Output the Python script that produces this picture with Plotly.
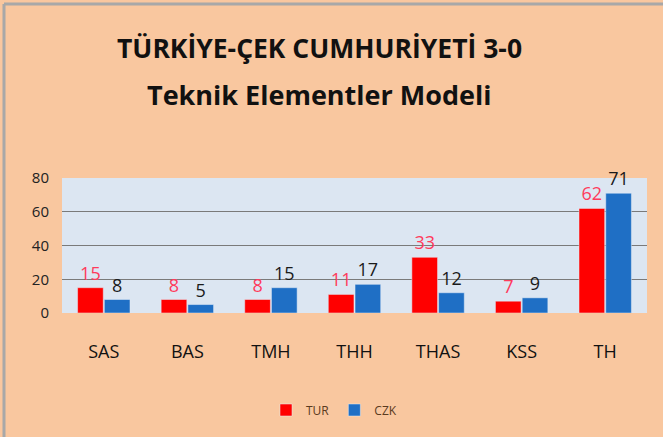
import plotly.graph_objects as go

categories = ["SAS", "BAS", "TMH", "THH", "THAS", "KSS", "TH"]
tur = [15, 8, 8, 11, 33, 7, 62]
czk = [8, 5, 15, 17, 12, 9, 71]
y_ticks = [0, 20, 40, 60, 80]

W, H = 663, 437
L, R, T, B = 62, 16, 178, 124
pw, ph = W - L - R, H - T - B

def px_x(x):
    return (x - L) / pw

def px_y(y):
    return (H - B - y) / ph

fig = go.Figure()
fig.add_trace(go.Bar(
    x=categories, y=tur, name="TUR", marker_color="#FF0000",
    text=[str(v) for v in tur], textposition="outside",
    textfont=dict(color="#FF3B5C", size=18, family="Open Sans"),
    cliponaxis=False,
))
fig.add_trace(go.Bar(
    x=categories, y=czk, name="CZK", marker_color="#1F6FC5",
    text=[str(v) for v in czk], textposition="outside",
    textfont=dict(color="#1A1A1A", size=18, family="Open Sans"),
    cliponaxis=False,
))

fig.update_layout(
    width=W, height=H,
    margin=dict(l=L, r=R, t=T, b=B),
    paper_bgcolor="#F9C79F",
    plot_bgcolor="#DCE6F2",
    barmode="group", bargap=0.36, bargroupgap=0.04,
    font=dict(family="Open Sans", color="#222222"),
    showlegend=True,
    legend=dict(orientation="h", x=px_x(334), xanchor="center", y=px_y(410), yanchor="middle",
                font=dict(size=12, color="#5A3A20"), bgcolor="rgba(0,0,0,0)",
                itemwidth=30, tracegroupgap=0),
    annotations=[
        dict(text="TÜRKİYE-ÇEK CUMHURİYETİ 3-0", xref="paper", yref="paper",
             x=px_x(319), y=px_y(48), xanchor="center", yanchor="middle", showarrow=False,
             font=dict(family="Open Sans", size=26.5, color="#111111", weight="bold")),
        dict(text="Teknik Elementler Modeli", xref="paper", yref="paper",
             x=px_x(319), y=px_y(95), xanchor="center", yanchor="middle", showarrow=False,
             font=dict(family="Open Sans", size=27, color="#111111", weight="bold")),
    ],
    shapes=[
        dict(type="line", xref="paper", yref="paper", x0=px_x(4), x1=px_x(4),
             y0=px_y(4), y1=px_y(437), line=dict(color="#A8A8A8", width=3), layer="above"),
        dict(type="line", xref="paper", yref="paper", x0=px_x(4), x1=px_x(663),
             y0=px_y(4), y1=px_y(4), line=dict(color="#A8A8A8", width=3), layer="above"),
    ],
)
fig.update_yaxes(range=[0, 80], tickvals=y_ticks, showgrid=True, gridcolor="#7A7A7A",
                 gridwidth=1, zeroline=False, tickfont=dict(size=15, color="#222222"),
                 ticks="", showline=False, ticklabelstandoff=12)
fig.update_xaxes(tickfont=dict(size=18, color="#111111"), ticks="outside", ticklen=22,
                 tickcolor="rgba(0,0,0,0)", showline=False)

fig.write_html("out.html", config={"displayModeBar": False},
               post_script="document.body.style.margin='0';document.body.style.overflow='hidden';")
